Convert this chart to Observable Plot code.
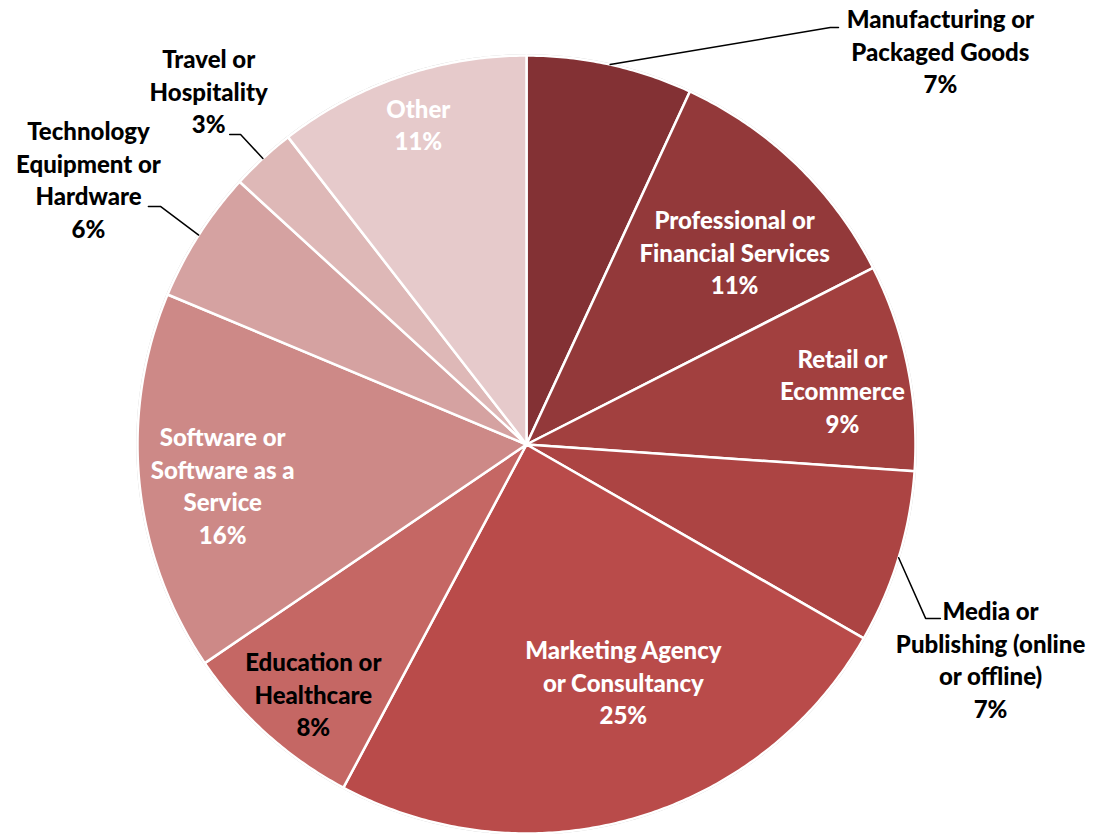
<!DOCTYPE html>
<html>
<head>
<meta charset="utf-8">
<script src="https://cdn.jsdelivr.net/npm/d3@7"></script>
<script src="https://cdn.jsdelivr.net/npm/@observablehq/plot@0.6"></script>
<style>
  html, body { margin: 0; padding: 0; background: #fff; }
  #chart svg { display: block; }
</style>
</head>
<body>
<div id="chart"></div>
<script>
// ---- data ----
const categories = [
  "Manufacturing or\nPackaged Goods",
  "Professional or\nFinancial Services",
  "Retail or\nEcommerce",
  "Media or\nPublishing (online\nor offline)",
  "Marketing Agency\nor Consultancy",
  "Education or\nHealthcare",
  "Software or\nSoftware as a\nService",
  "Technology\nEquipment or\nHardware",
  "Travel or\nHospitality",
  "Other"
];
const shares = [6.9, 10.6, 8.6, 7.2, 24.5, 7.7, 15.8, 5.5, 2.7, 10.5];
const percentLabels = ["7%", "11%", "9%", "7%", "25%", "8%", "16%", "6%", "3%", "11%"];

// ---- styling / layout (not data) ----
const colors = ["#833134", "#93393A", "#A2403F", "#AC4443", "#B94B4A", "#C56764", "#CD8987", "#D5A2A1", "#DEB8B7", "#E6CACB"];
const textColors = ["#000", "#fff", "#fff", "#000", "#fff", "#000", "#fff", "#000", "#000", "#fff"];
// label centre, in pie-radius units (no elbow = label inside its slice)
const labelLayout = [
  {x: 1.064, y: 1.013, elbow: [0.781, 1.072], end: [0.802, 1.072]},
  {x: 0.535, y: 0.496},
  {x: 0.812, y: 0.141},
  {x: 1.193, y: -0.550, elbow: [1.026, -0.447], end: [1.064, -0.447]},
  {x: 0.249, y: -0.609},
  {x: -0.548, y: -0.640},
  {x: -0.781, y: -0.103},
  {x: -1.126, y: 0.684, elbow: [-0.941, 0.612], end: [-0.972, 0.612]},
  {x: -0.817, y: 0.910, elbow: [-0.735, 0.797], end: [-0.763, 0.797]},
  {x: -0.278, y: 0.825}
];

const W = 1096, H = 834;
const table = categories.map((c, i) => ({name: c, value: shares[i], pct: percentLabels[i], color: colors[i], tcolor: textColors[i], i}));
const arcs = d3.pie().sort(null).value(d => d.value)(table);

// slice outlines (radius 1, angle clockwise from 12 o'clock)
const slicePts = [];
for (const a of arcs) {
  slicePts.push({k: a.data.i, x: 0, y: 0, color: a.data.color});
  const n = Math.max(2, Math.ceil((a.endAngle - a.startAngle) / (Math.PI / 360)));
  for (let j = 0; j <= n; j++) {
    const t = a.startAngle + (a.endAngle - a.startAngle) * j / n;
    slicePts.push({k: a.data.i, x: Math.sin(t), y: Math.cos(t), color: a.data.color});
  }
  slicePts.push({k: a.data.i, x: 0, y: 0, color: a.data.color});
}

// leader lines
const leaderPts = [];
arcs.forEach(a => {
  const L = labelLayout[a.data.i];
  if (!L.elbow) return;
  const m = (a.startAngle + a.endAngle) / 2;
  leaderPts.push({k: a.data.i, x: Math.sin(m), y: Math.cos(m)});
  leaderPts.push({k: a.data.i, x: L.elbow[0], y: L.elbow[1]});
  leaderPts.push({k: a.data.i, x: L.end[0], y: L.end[1]});
});

const labels = table.map(d => ({
  text: d.name + "\n" + d.pct,
  x: labelLayout[d.i].x,
  y: labelLayout[d.i].y,
  color: d.tcolor
}));

const outline = d3.range(0, 721).map(j => ({x: Math.sin(j * Math.PI / 360), y: Math.cos(j * Math.PI / 360)}));

const chart = Plot.plot({
  width: W,
  height: H,
  margin: 0,
  x: {domain: [-526 / 389, (W - 526) / 389], range: [0, W], axis: null},
  y: {domain: [-(H - 444) / 389, 444 / 389], range: [H, 0], axis: null},
  color: {type: "identity"},
  marks: [
    Plot.line(outline, {x: "x", y: "y", stroke: "#c8c8c8", strokeWidth: 2.5}),
    Plot.line(slicePts, {x: "x", y: "y", z: "k", fill: "color", stroke: "#fff", strokeWidth: 2.5, strokeLinejoin: "round", curve: "linear"}),
    Plot.line(leaderPts, {x: "x", y: "y", z: "k", stroke: "#000", strokeWidth: 1.5}),
    Plot.text(labels, {
      x: "x", y: "y", text: "text", fill: "color",
      fontSize: 24, fontWeight: 900, fontFamily: "Lato, 'Open Sans', sans-serif",
      lineHeight: 1.354, textAnchor: "middle"
    })
  ]
});
document.getElementById("chart").appendChild(chart);
</script>
</body>
</html>
